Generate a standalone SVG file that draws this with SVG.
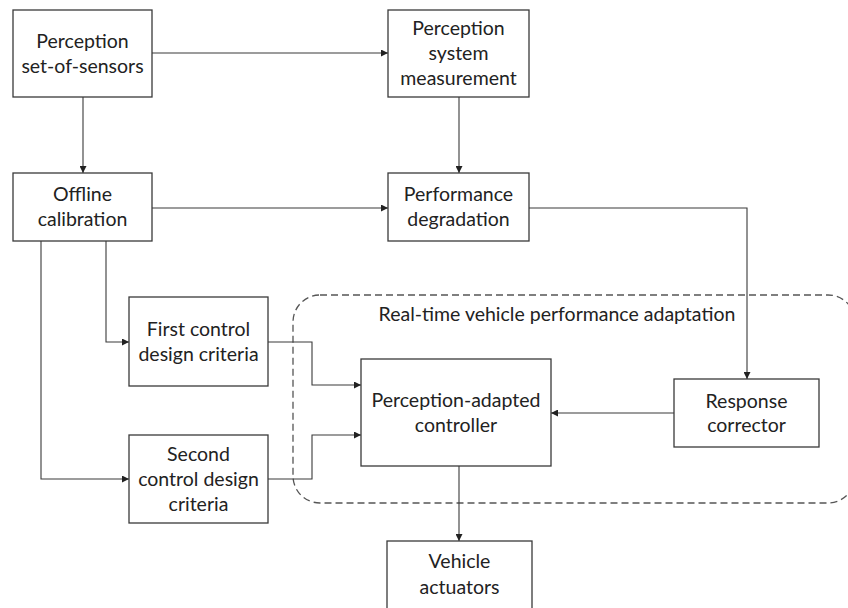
<svg xmlns="http://www.w3.org/2000/svg" width="848" height="608" viewBox="0 0 848 608">
<style>
.box{fill:#fff;stroke:#3a3a3a;stroke-width:1.3}
.t{font-family:Lato,"Liberation Sans",sans-serif;font-size:19.5px;fill:#222;text-anchor:middle}
.c{fill:none;stroke:#3a3a3a;stroke-width:1.1;marker-end:url(#ah)}
.dash{fill:none;stroke:#555;stroke-width:1.3;stroke-dasharray:7 4}
</style>
<defs>
<marker id="ah" viewBox="0 0 10 10" refX="10" refY="5" markerWidth="7" markerHeight="7" markerUnits="userSpaceOnUse" orient="auto">
<path d="M0,0 L10,5 L0,10 z" fill="#222"/>
</marker>
</defs>
<rect width="848" height="608" fill="#fff"/>
<g id="adaptation">
<rect class="dash" x="293" y="295" width="562" height="208" rx="27" ry="27"/>
<text class="t" x="557" y="321">Real-time vehicle performance adaptation</text>
</g>
<g id="connectors">
<path class="c" d="M152,53 H388"/>
<path class="c" d="M83,97 V173"/>
<path class="c" d="M459,97 V173"/>
<path class="c" d="M152,208 H388"/>
<path class="c" d="M529,208 H747 V379"/>
<path class="c" d="M106,241 V342 H129"/>
<path class="c" d="M41,241 V479 H129"/>
<path class="c" d="M268,342 H312 V385 H361"/>
<path class="c" d="M268,479 H312 V435 H361"/>
<path class="c" d="M674,413 H551"/>
<path class="c" d="M459,466 V541"/>
</g>
<g id="sensors">
<rect class="box" x="13" y="10" width="139" height="87"/>
<text class="t" x="82.5" y="48">Perception</text>
<text class="t" x="82.5" y="73">set-of-sensors</text>
</g>
<g id="measurement">
<rect class="box" x="388" y="10" width="141" height="87"/>
<text class="t" x="458.5" y="35">Perception</text>
<text class="t" x="458.5" y="60">system</text>
<text class="t" x="458.5" y="85">measurement</text>
</g>
<g id="offline">
<rect class="box" x="13" y="173" width="139" height="68"/>
<text class="t" x="82.5" y="201">Offline</text>
<text class="t" x="82.5" y="226">calibration</text>
</g>
<g id="degradation">
<rect class="box" x="388" y="173" width="141" height="68"/>
<text class="t" x="458.5" y="201">Performance</text>
<text class="t" x="458.5" y="226">degradation</text>
</g>
<g id="first">
<rect class="box" x="129" y="297" width="139" height="89"/>
<text class="t" x="198.5" y="336">First control</text>
<text class="t" x="198.5" y="361">design criteria</text>
</g>
<g id="second">
<rect class="box" x="129" y="435" width="139" height="88"/>
<text class="t" x="198.5" y="461">Second</text>
<text class="t" x="198.5" y="486">control design</text>
<text class="t" x="198.5" y="511">criteria</text>
</g>
<g id="controller">
<rect class="box" x="361" y="359" width="190" height="107"/>
<text class="t" x="456" y="407">Perception-adapted</text>
<text class="t" x="456" y="432">controller</text>
</g>
<g id="corrector">
<rect class="box" x="674" y="379" width="145" height="68"/>
<text class="t" x="746.5" y="408">Response</text>
<text class="t" x="746.5" y="432">corrector</text>
</g>
<g id="actuators">
<rect class="box" x="387" y="541" width="145" height="75"/>
<text class="t" x="459.5" y="568">Vehicle</text>
<text class="t" x="459.5" y="594">actuators</text>
</g>
</svg>
